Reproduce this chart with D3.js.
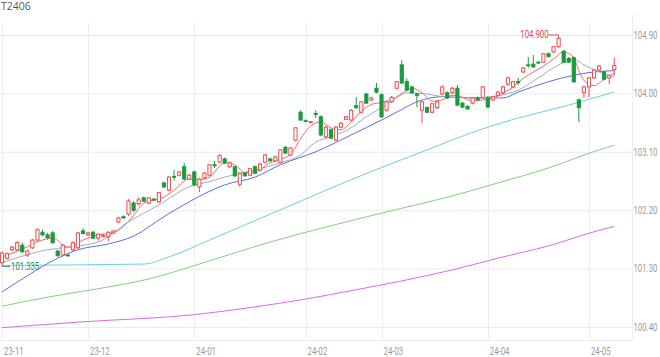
<!DOCTYPE html>
<html><head><meta charset="utf-8">
<script src="https://cdn.jsdelivr.net/npm/d3@7"></script>
<style>body{margin:0;background:#fff}svg{display:block}</style>
</head><body><svg id="c" width="660" height="357"></svg>
<script>
const title = "T2406";
const monthLabels = ["23-11","23-12","24-01","24-02","24-03","24-04","24-05"];
const monthStart = [0,17,38,60,75,96,116];
const yTicks = [100.40,101.30,102.20,103.10,104.00,104.90];

const opens = [101.39,101.46,101.59,101.59,101.66,101.51,101.62,101.74,101.86,101.82,101.85,101.57,101.51,101.51,101.59,101.62,101.88,101.82,101.86,101.77,101.81,101.79,101.85,102.02,102.10,102.14,102.31,102.30,102.39,102.31,102.37,102.33,102.62,102.51,102.72,102.74,102.87,102.68,102.79,102.56,102.70,102.74,102.90,102.94,102.99,102.87,102.87,102.60,102.77,102.74,102.87,102.82,102.94,102.99,102.96,102.94,103.17,103.05,103.28,103.71,103.58,103.56,103.69,103.64,103.33,103.44,103.28,103.48,103.60,103.59,103.81,103.71,103.99,103.90,104.08,103.98,103.74,103.87,104.08,104.44,104.18,104.10,103.99,103.74,103.78,103.71,103.78,103.99,104.01,104.01,104.08,103.85,103.80,103.85,103.93,103.94,103.93,103.90,103.97,104.01,104.14,104.10,104.18,104.33,104.44,104.45,104.48,104.48,104.61,104.64,104.72,104.65,104.54,104.55,103.90,104.01,104.10,104.24,104.36,104.33,104.24,104.37];
const highs = [101.57,101.55,101.65,101.72,101.70,101.59,101.76,101.92,101.90,101.85,101.88,101.59,101.68,101.52,101.72,101.86,101.92,101.86,101.88,101.84,101.84,101.88,101.89,102.10,102.12,102.37,102.34,102.40,102.41,102.40,102.39,102.48,102.64,102.73,102.82,102.80,102.93,102.76,102.81,102.70,102.79,102.91,102.96,103.06,103.01,102.95,102.88,102.79,102.79,102.85,102.89,102.93,103.07,103.01,103.04,103.14,103.19,103.17,103.48,103.74,103.60,103.57,103.74,103.66,103.50,103.46,103.50,103.56,103.65,103.76,103.94,103.88,104.01,103.95,104.16,104.00,103.89,103.96,104.19,104.51,104.23,104.12,104.01,103.89,103.80,103.85,103.89,104.12,104.03,104.10,104.13,103.87,103.82,103.94,103.95,104.11,103.96,103.96,104.04,104.12,104.26,104.19,104.24,104.41,104.56,104.59,104.50,104.62,104.63,104.73,104.90,104.67,104.56,104.57,103.92,104.12,104.25,104.38,104.44,104.35,104.29,104.55];
const lows = [101.335,101.44,101.57,101.57,101.54,101.48,101.60,101.72,101.80,101.75,101.68,101.48,101.49,101.48,101.57,101.60,101.83,101.80,101.76,101.73,101.78,101.72,101.83,102.00,102.07,102.11,102.17,102.28,102.33,102.29,102.34,102.31,102.54,102.49,102.66,102.72,102.66,102.66,102.57,102.48,102.68,102.72,102.85,102.93,102.91,102.85,102.71,102.56,102.72,102.72,102.76,102.80,102.92,102.95,102.94,102.92,103.07,103.03,103.26,103.58,103.56,103.54,103.62,103.34,103.31,103.30,103.26,103.46,103.59,103.57,103.76,103.69,103.84,103.88,104.00,103.62,103.72,103.85,104.06,104.14,104.04,103.99,103.79,103.54,103.70,103.69,103.76,103.97,103.91,103.99,103.80,103.77,103.75,103.83,103.88,103.92,103.77,103.88,103.95,103.99,104.12,104.08,104.13,104.31,104.39,104.39,104.46,104.47,104.55,104.62,104.70,104.47,104.47,104.16,103.56,103.93,103.94,104.22,104.34,104.20,104.14,104.27];
const closes = [101.54,101.53,101.63,101.70,101.56,101.57,101.74,101.90,101.82,101.78,101.70,101.50,101.66,101.50,101.70,101.85,101.84,101.85,101.77,101.83,101.81,101.86,101.88,102.08,102.08,102.34,102.20,102.36,102.34,102.39,102.36,102.47,102.56,102.71,102.71,102.79,102.68,102.74,102.59,102.68,102.77,102.90,102.89,103.04,102.93,102.93,102.73,102.77,102.73,102.84,102.77,102.91,103.05,102.96,103.02,103.13,103.08,103.16,103.47,103.59,103.575,103.565,103.68,103.36,103.48,103.31,103.48,103.54,103.64,103.74,103.78,103.87,103.85,103.93,104.02,103.64,103.87,103.94,104.18,104.16,104.05,104.01,103.97,103.87,103.71,103.84,103.87,104.10,103.93,104.08,103.82,103.79,103.76,103.93,103.90,104.10,103.79,103.945,104.02,104.10,104.24,104.18,104.17,104.39,104.43,104.41,104.47,104.61,104.57,104.72,104.85,104.48,104.48,104.18,103.78,104.10,104.24,104.36,104.42,104.22,104.28,104.43];

const ma5Idx = [0,4,8,10,13,16,19,22,24,26,28,32,34,37,39,41,44,46,48,50,53,57,59,61,63,65,67,69,71,73,75,77,79,81,83,85,87,89,91,93,95,97,99,101,103,105,107,109,111,113,114,115,117,119,121];
const ma5 = [101.48,101.60,101.74,101.77,101.63,101.74,101.82,101.85,101.95,102.12,102.31,102.40,102.51,102.68,102.67,102.71,102.93,102.90,102.78,102.79,102.93,103.06,103.30,103.50,103.56,103.47,103.44,103.56,103.72,103.83,103.86,103.90,104.00,104.08,104.01,103.88,103.90,103.97,103.94,103.88,103.90,103.93,104.00,104.10,104.23,104.33,104.42,104.53,104.64,104.55,104.35,104.20,104.12,104.22,104.31];
const ma10Idx = [0,9,13,19,25,31,37,41,44,50,55,59,62,65,69,72,75,78,80,84,87,93,99,102,106,110,113,115,118,121];
const ma10 = [101.39,101.59,101.63,101.71,102.02,102.28,102.56,102.64,102.71,102.82,102.93,103.05,103.25,103.33,103.47,103.64,103.78,103.93,104.01,103.99,103.95,103.93,103.98,104.05,104.24,104.44,104.52,104.44,104.33,104.25];
const ma20Idx = [0,4,11,15,21,26,32,37,44,50,55,62,69,75,78,82,87,93,99,102,108,113,117,121];
const ma20 = [100.94,101.14,101.46,101.59,101.68,101.80,102.10,102.33,102.59,102.71,102.90,103.10,103.36,103.59,103.71,103.87,103.95,103.93,103.93,104.02,104.18,104.28,104.33,104.35];
const ma60Idx = [0,28,33,41,65,69,83,96,102,112,116,121];
const ma60 = [101.35,101.37,101.48,101.74,102.54,102.67,103.10,103.48,103.62,103.82,103.91,104.02];
const ma120Idx = [0,9,19,29,39,53,65,79,89,98,108,118,121];
const ma120 = [100.72,100.86,100.99,101.14,101.37,101.71,101.96,102.23,102.42,102.62,102.85,103.13,103.20];
const ma250Idx = [0,16,38,50,60,69,79,89,98,108,118,121];
const ma250 = [100.39,100.48,100.59,100.71,100.83,100.96,101.11,101.28,101.46,101.65,101.89,101.95];

const RED = "#ef4b4b", GREEN = "#1a9a3c";
const AXIS_FONT = "'Roboto','Liberation Sans',sans-serif";
const SX = 0.78; // horizontal condensing of axis text (narrow face in the original)
const narrow = (sel, x0) => sel.attr("font-family", AXIS_FONT).attr("font-size", 10)
  .attr("transform", `scale(${SX},1)`).attr("x", function (d, i) { return (typeof x0 === "function" ? x0(d, i) : x0) / SX; });

const svg = d3.select("#c");
const N = closes.length;
const x = d3.scaleBand().domain(d3.range(N)).range([-0.5, 616.8]).paddingInner(0.3).paddingOuter(0.15);
const cx = i => x(i) + x.bandwidth() / 2;
const y = d3.scaleLinear().domain([100.40, 104.90]).range([327, 35]);
const plotRight = 632, plotTop = 23, plotBottom = 340;

// title
svg.append("text").attr("x", 1).attr("y", 10).text(title)
  .attr("font-family", "'Open Sans',sans-serif").attr("font-size", 10.5).attr("fill", "#555");

// horizontal grid + right axis labels
const yAxis = d3.axisRight(y).tickValues(yTicks).tickSize(-plotRight).tickFormat(d3.format(".2f"));
const ga = svg.append("g").attr("transform", `translate(${plotRight},0)`).call(yAxis);
ga.select(".domain").remove();
ga.selectAll(".tick line").attr("stroke", "#ececec");
ga.selectAll(".tick text").attr("fill", "#9a9a9a").call(narrow, 1.5);

// vertical month grid lines + labels
const gm = svg.append("g");
gm.selectAll("line").data(monthStart).join("line")
  .attr("x1", d => Math.round(cx(d)) + 0.5).attr("x2", d => Math.round(cx(d)) + 0.5)
  .attr("y1", plotTop).attr("y2", plotBottom).attr("stroke", "#eeeeee");
gm.selectAll("text").data(monthStart).join("text")
  .attr("y", 355).text((d, i) => monthLabels[i])
  .attr("fill", "#9a9a9a").call(narrow, d => cx(d) + 2);
// right border & bottom line
svg.append("line").attr("x1", plotRight + 0.5).attr("x2", plotRight + 0.5).attr("y1", 14).attr("y2", plotBottom).attr("stroke", "#eeeeee");
svg.append("line").attr("x1", 0).attr("x2", plotRight).attr("y1", plotBottom + 0.5).attr("y2", plotBottom + 0.5).attr("stroke", "#eeeeee");

// moving averages
const line = d3.line().x(d => cx(d[0])).y(d => y(d[1])).curve(d3.curveMonotoneX);
const mas = [
  [ma250Idx, ma250, "#d96ae9"],
  [ma120Idx, ma120, "#84d07c"],
  [ma60Idx, ma60, "#64d3e3"],
  [ma20Idx, ma20, "#5a6fe0"],
  [ma10Idx, ma10, "#a3abc0"],
  [ma5Idx, ma5, "#ef6a6a"]
];
mas.forEach(([idx, vals, col]) => {
  svg.append("path").datum(idx.map((k, j) => [k, vals[j]]))
    .attr("d", line).attr("fill", "none").attr("stroke", col).attr("stroke-width", 1);
});

// candles
const bw = x.bandwidth() - 0.4;
const gc = svg.append("g");
const idxs = d3.range(N);
const up = i => closes[i] >= opens[i];
gc.selectAll("line").data(idxs).join("line")
  .attr("x1", cx).attr("x2", cx)
  .attr("y1", i => y(highs[i])).attr("y2", i => y(lows[i]))
  .attr("stroke", i => up(i) ? RED : GREEN).attr("stroke-width", 1);
gc.selectAll("rect").data(idxs).join("rect")
  .attr("x", i => cx(i) - bw / 2).attr("width", bw)
  .attr("y", i => y(Math.max(opens[i], closes[i])))
  .attr("height", i => Math.max(0.8, Math.abs(y(opens[i]) - y(closes[i]))))
  .attr("fill", i => up(i) ? "#fff" : GREEN)
  .attr("stroke", i => up(i) ? RED : GREEN).attr("stroke-width", 1);

// high / low markers
const hi = d3.maxIndex(highs), lo = d3.minIndex(lows);
svg.append("line").attr("x1", cx(hi) - 10).attr("x2", cx(hi)).attr("y1", y(highs[hi])).attr("y2", y(highs[hi])).attr("stroke", "#e8414a");
svg.append("text").attr("y", y(highs[hi]) + 3.5).attr("text-anchor", "end")
  .text(highs[hi].toFixed(3)).attr("fill", "#e8414a").call(narrow, cx(hi) - 10);
svg.append("line").attr("x1", cx(lo)).attr("x2", cx(lo) + 8).attr("y1", y(lows[lo])).attr("y2", y(lows[lo])).attr("stroke", "#2f8f55");
svg.append("text").attr("y", y(lows[lo]) + 3.5)
  .text(lows[lo].toFixed(3)).attr("fill", "#2f8f55").call(narrow, cx(lo) + 9);
</script></body></html>
